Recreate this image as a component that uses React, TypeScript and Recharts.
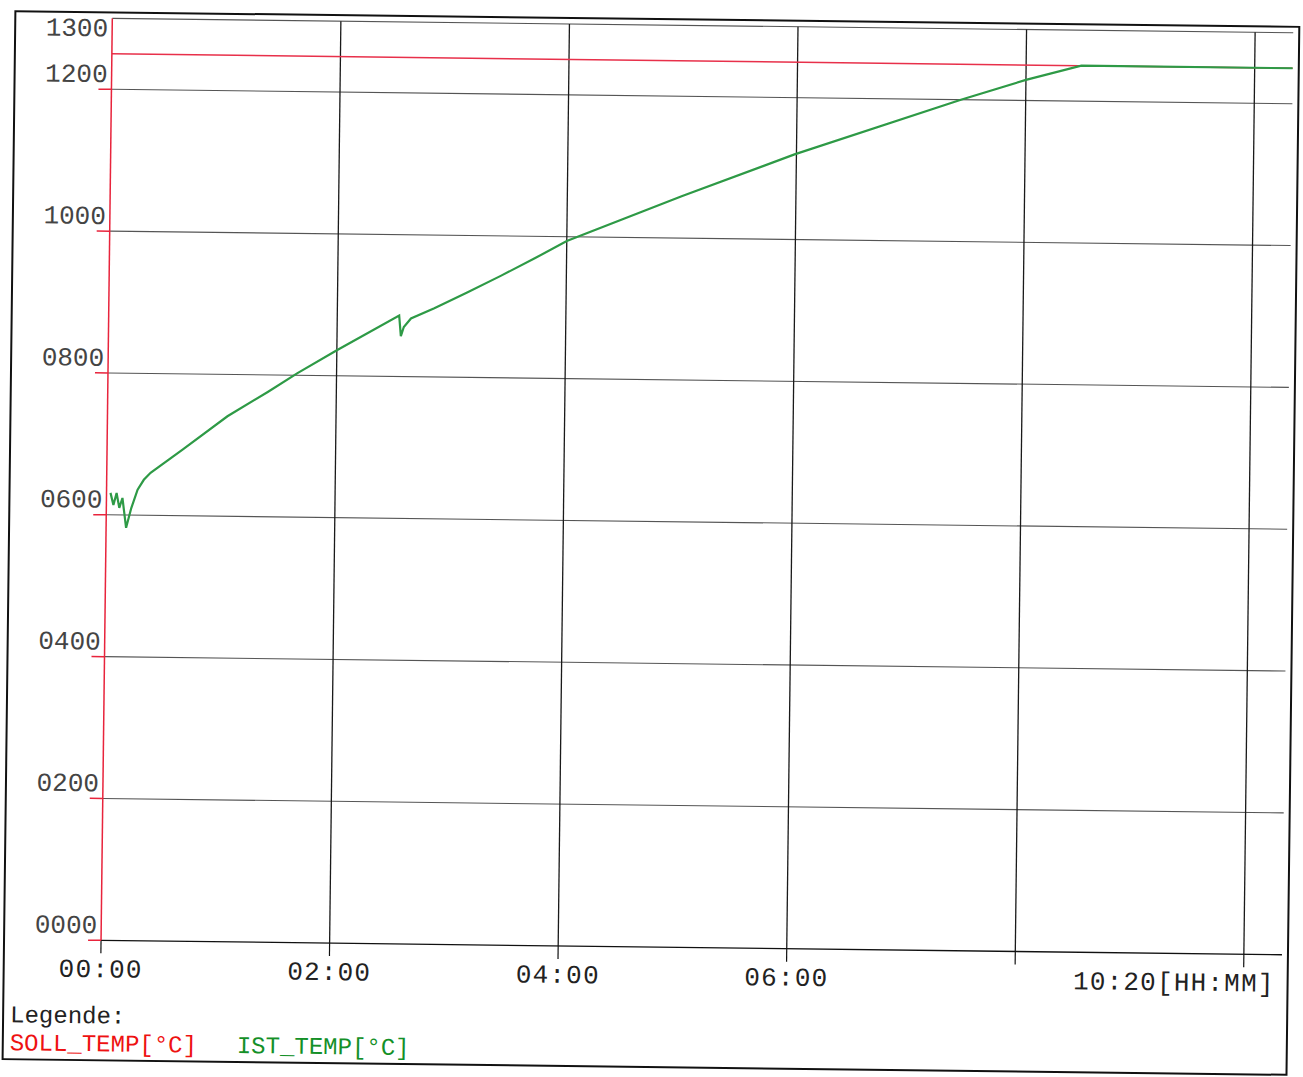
import React from "react";
import { LineChart, Line, XAxis, YAxis, ReferenceLine } from "recharts";

// ---- axis ticks / labels ----
const timeTicks = [0, 120, 240, 360, 480, 600];
const timeTickLabels = ["00:00", "02:00", "04:00", "06:00", "", ""];
const timeEnd = 620;
const timeEndLabel = "10:20[HH:MM]";

const tempTicks = [0, 200, 400, 600, 800, 1000, 1200, 1300];
const tempTickLabels = ["0000", "0200", "0400", "0600", "0800", "1000", "1200", "1300"];

// ---- series: SOLL_TEMP (setpoint) ----
const sollTime = [0, 620];
const sollTemp = [1250, 1250];

// ---- series: IST_TEMP (actual) ----
const istTime = [
  2.1, 3.7, 5.3, 6.8, 8.4, 10.5, 13.1, 16.3, 19.5, 23, 40, 63, 84, 99.5, 120,
  152.5, 153.5, 155, 158.7, 170.9, 188.3, 205.8, 223.3, 240, 300, 359, 446,
  480, 509, 620,
];
const istTemp = [
  631, 614, 631, 610, 624, 582, 610, 636, 650, 660, 694, 741, 776, 803, 836,
  886, 857, 870, 882, 897, 920, 944, 969, 994, 1059, 1120, 1200,
  1229, 1250, 1250,
];

const legendTitle = "Legende:";
const legendNames = ["SOLL_TEMP[°C]", "IST_TEMP[°C]"];
const legendColors = ["#ee1111", "#149028"];

const sollData = sollTime.map((t, i) => ({ t, v: sollTemp[i] }));
const istData = istTime.map((t, i) => ({ t, v: istTemp[i] }));

const MONO = "'Liberation Mono', 'DejaVu Sans Mono', monospace";

const XTick = (props: any) => {
  const { x, y, payload } = props;
  const v = payload.value;
  if (v === timeEnd) {
    return (
      <text x={x - 7} y={y + 37} textAnchor="end" fontFamily={MONO} fontSize={26}
        letterSpacing={1.2} fill="#222">
        {timeEndLabel}
      </text>
    );
  }
  const i = timeTicks.indexOf(v);
  const label = i >= 0 ? timeTickLabels[i] : "";
  return (
    <g>
      <line x1={x} x2={x} y1={y} y2={y + 13} stroke="#111" strokeWidth={1.2} />
      {label ? (
        <text x={x} y={y + 37} textAnchor="middle" fontFamily={MONO} fontSize={26}
          letterSpacing={1.2} fill="#222">
          {label}
        </text>
      ) : null}
    </g>
  );
};

const YTick = (props: any) => {
  const { x, y, payload } = props;
  const v = payload.value;
  const i = tempTicks.indexOf(v);
  const label = i >= 0 ? tempTickLabels[i] : "";
  const isTop = v === tempTicks[tempTicks.length - 1];
  return (
    <g>
      {!isTop ? (
        <line x1={x - 13} x2={x} y1={y} y2={y} stroke="#e8243c" strokeWidth={1.5} />
      ) : null}
      <text x={x - 4} y={isTop ? y + 18 : y - 7} textAnchor="end" fontFamily={MONO}
        fontSize={26} fill="#444">
        {label}
      </text>
    </g>
  );
};

export default function App() {
  return (
    <div
      style={{
        position: "absolute",
        left: 0,
        top: 0,
        width: 1303,
        height: 1077,
        background: "#fff",
        transform: "rotate(0.7deg)",
        transformOrigin: "651px 538px",
      }}
    >
      <div
        style={{
          position: "absolute",
          left: 8,
          top: 18,
          width: 1286,
          height: 1050,
          boxSizing: "border-box",
          border: "2px solid #111",
        }}
      />
      <div style={{ position: "absolute", left: 0, top: 0 }}>
        <LineChart width={1303} height={1077} margin={{ top: 25, right: 16, bottom: 0, left: 0 }}>
          <XAxis
            dataKey="t"
            type="number"
            domain={[0, timeEnd]}
            ticks={[...timeTicks, timeEnd]}
            interval={0}
            height={130}
            tickSize={0}
            tickMargin={0}
            tickLine={false}
            axisLine={{ stroke: "#111", strokeWidth: 1.3 }}
            tick={XTick}
            allowDataOverflow
          />
          <YAxis
            type="number"
            domain={[0, 1300]}
            ticks={tempTicks}
            interval={0}
            width={106}
            tickSize={0}
            tickMargin={0}
            tickLine={false}
            axisLine={{ stroke: "#e8243c", strokeWidth: 1.5 }}
            tick={YTick}
            allowDataOverflow
          />
          {tempTicks
            .filter((v) => v !== 0)
            .map((v) => (
              <ReferenceLine key={"h" + v} y={v} stroke="#555" strokeWidth={1.1} />
            ))}
          {timeTicks
            .filter((v) => v !== 0)
            .map((v) => (
              <ReferenceLine key={"v" + v} x={v} stroke="#1a1a1a" strokeWidth={1.3} />
            ))}
          <Line
            data={sollData}
            dataKey="v"
            type="linear"
            stroke="#e8304a"
            strokeWidth={1.5}
            dot={false}
            activeDot={false}
            isAnimationActive={false}
          />
          <Line
            data={istData}
            dataKey="v"
            type="linear"
            stroke="#2e9a46"
            strokeWidth={2.2}
            dot={false}
            activeDot={false}
            isAnimationActive={false}
          />
        </LineChart>
      </div>
      <svg
        width={1303}
        height={1077}
        style={{ position: "absolute", left: 0, top: 0, pointerEvents: "none" }}
      >
        <text x={16} y={1030} fontFamily={MONO} fontSize={24} fill="#222">
          {legendTitle}
        </text>
        <text x={16} y={1058} fontFamily={MONO} fontSize={24} fill={legendColors[0]}>
          {legendNames[0]}
        </text>
        <text x={243} y={1058} fontFamily={MONO} fontSize={24} fill={legendColors[1]}>
          {legendNames[1]}
        </text>
      </svg>
    </div>
  );
}
